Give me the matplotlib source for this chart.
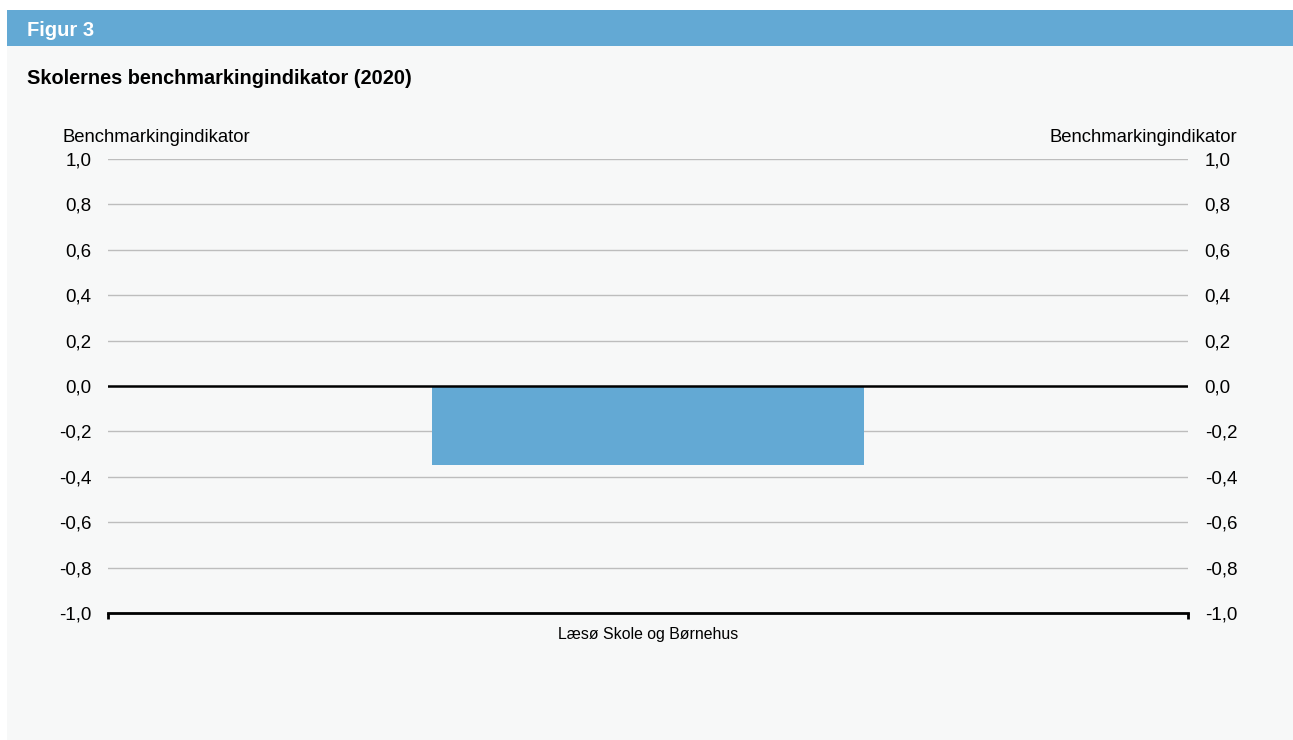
import matplotlib.pyplot as plt
from matplotlib.patches import Rectangle

plt.rcParams['font.family'] = ['Liberation Sans', 'DejaVu Sans']

# Data
categories = ['Læsø Skole og Børnehus']
values = [-0.35]
y_ticks = [-1.0, -0.8, -0.6, -0.4, -0.2, 0.0, 0.2, 0.4, 0.6, 0.8, 1.0]
y_ticklabels = [f'{v:.1f}'.replace('.', ',') for v in y_ticks]

W, H = 1293, 740
bg = '#f7f8f8'
blue = '#63a9d4'

fig = plt.figure(figsize=(W / 100, H / 100), dpi=100, facecolor='white')

# panel background and header bar (kept behind the axes)
fig.patches.append(Rectangle((7 / W, 0), 1 - 7 / W, 1 - 10 / H, transform=fig.transFigure,
                             facecolor=bg, edgecolor='none', zorder=-2))
fig.patches.append(Rectangle((7 / W, 1 - 46 / H), 1 - 7 / W, 36 / H, transform=fig.transFigure,
                             facecolor=blue, edgecolor='none', zorder=-1))
fig.text(27 / W, 1 - 30 / H, 'Figur 3', color='white', fontsize=14.5, fontweight='bold',
         va='center', ha='left')
fig.text(27 / W, 1 - 78 / H, 'Skolernes benchmarkingindikator (2020)', color='black',
         fontsize=14.3, fontweight='bold', va='center', ha='left')

# axes area
left, right, top, bottom = 108, 1188, 159, 613
ax = fig.add_axes([left / W, 1 - bottom / H, (right - left) / W, (bottom - top) / H])
ax.set_facecolor('none')

x = list(range(len(categories)))
ax.bar(x, values, width=0.4, color=blue, zorder=2)

ax.set_xlim(-0.5, 0.5)
ax.set_ylim(-1.0, 1.0)
ax.set_yticks(y_ticks)
ax.set_yticklabels(y_ticklabels)
for v in y_ticks:
    if v == 0.0:
        ax.axhline(v, color='black', lw=1.8, zorder=3)
    elif v != -1.0:
        ax.axhline(v, color='#bdbdbd', lw=1, zorder=1)

for s in ['top', 'left', 'right']:
    ax.spines[s].set_visible(False)
ax.spines['bottom'].set_linewidth(2)
ax.spines['bottom'].set_color('black')

ax.tick_params(axis='y', left=False, right=False, labelleft=True, labelright=True,
               labelsize=13.5, pad=8.5)
ax.set_xticks(x)
ax.set_xticklabels(categories, fontsize=11.4)
ax.tick_params(axis='x', which='major', length=0, pad=10)
ax.set_xticks([-0.5, 0.5], minor=True)
ax.tick_params(axis='x', which='minor', length=4, width=2, color='black')

fig.text(63 / W, 1 - 137 / H, 'Benchmarkingindikator', fontsize=13.3, va='center', ha='left')
fig.text(1237 / W, 1 - 137 / H, 'Benchmarkingindikator', fontsize=13.3, va='center', ha='right')

fig.savefig('out.png', dpi=100, facecolor='white')
